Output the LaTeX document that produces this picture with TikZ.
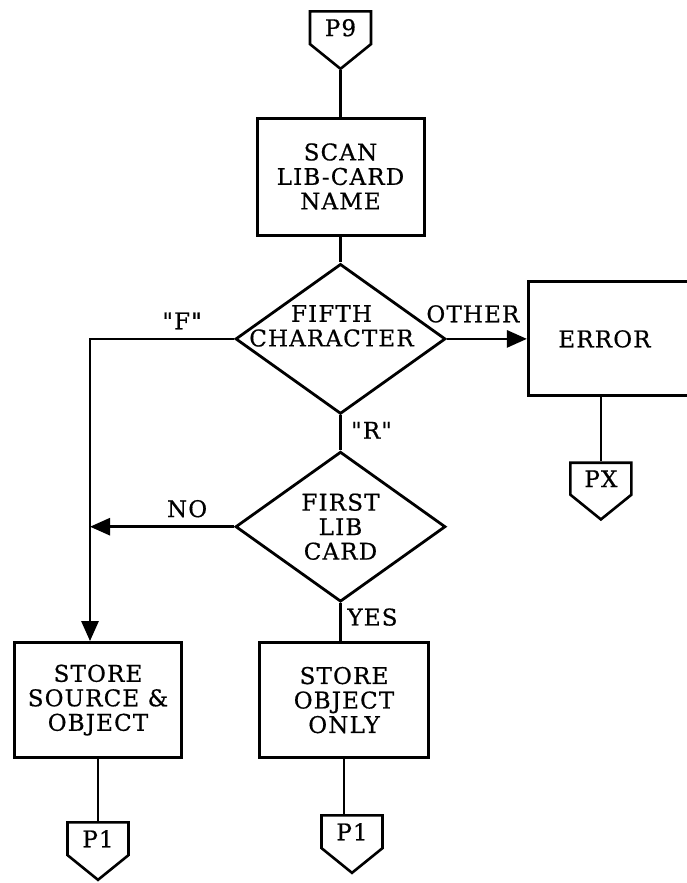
\documentclass[tikz,border=0pt]{standalone}
\usepackage{fontspec}
\setmainfont{DejaVu Serif}[LetterSpace=5, Ligatures=TeXOff, FakeBold=0.6]
\usetikzlibrary{arrows.meta,positioning,shapes.geometric,shapes.symbols,calc}

\newcommand{\flowfont}{\fontsize{23}{24.5}\selectfont}

\begin{document}
\begin{tikzpicture}[
    x=1pt, y=1pt,
    box/.style={rectangle, draw, line width=3pt, minimum width=167pt, minimum height=115pt, align=center, font=\flowfont},
    decision/.style={diamond, draw, line width=2.8pt, aspect=1.4, inner sep=-3pt, minimum width=210pt, minimum height=150pt, align=center, font=\flowfont},
    offpage/.style={signal, signal to=south, signal from=nowhere, signal pointer angle=102, draw, line width=2.6pt, minimum width=61pt, minimum height=47pt, inner sep=2pt, font=\flowfont},
    arrow/.style={-{Triangle[length=20pt,width=17pt]}, line width=2.8pt},
    link/.style={line width=2.8pt},
    tag/.style={font=\flowfont, inner sep=1pt},
]
\useasboundingbox (0,0) rectangle (687,-883);
\clip (0,0) rectangle (687,-883);

% --- main column ---
\node[box, minimum height=117pt] (scan) at (340.5,-176.5) {SCAN\\LIB-CARD\\NAME};
\node[offpage, above=46pt of scan] (p9) {P9};
\node[decision, below=26pt of scan] (fifth) {};
\node[tag, align=center] (fifthtxt) at ($(fifth)+(-9,13)$) {FIFTH\\CHARACTER};
\node[decision, below=35pt of fifth] (first) {FIRST\\LIB\\CARD};
\node[box, below=38pt of first, xshift=3.5pt, minimum width=169pt] (objonly) {STORE\\OBJECT\\ONLY};
\node[box, left=75pt of objonly] (srcobj) {STORE\\SOURCE \&\\OBJECT};
\node[offpage, below=62pt of srcobj] (p1a) {P1};
\node[offpage, below=55pt of objonly, xshift=8pt] (p1b) {P1};

% --- error branch ---
\node[box, right=80pt of fifth, minimum height=114pt, text width=140pt, inner xsep=30pt, align=left] (error) {ERROR};
\node[offpage, below=64pt of error, xshift=-27.5pt] (px) {PX};

\draw[link] (p9.south) -- (scan.north);
\draw[link] (scan) -- (fifth);
\draw[arrow] (fifth.east) -- (fifth.east -| error.west);
\draw[link] (fifth) -- (first);
\draw[link] (px.north |- error.south) -- (px.north);

% "F" and NO branches share the left drop line
\coordinate (fdrop) at ([xshift=-8pt]srcobj.north);
\draw[arrow] (fifth.west) -| (fdrop);
\draw[arrow] (first.west) -- (first.west -| fdrop);
\draw[link] (first.south) -- (first.south |- objonly.north);

\draw[link] (srcobj.south) -- (p1a.north);
\draw[link] (objonly.south) -- (objonly.south |- p1b.north);

% branch labels
\node[tag] (fq) at ($(fifth.west)+(-52,18)$) {"F"};
\node[tag] (other) at ($(fifth.east)+(26,25)$) {OTHER};
\node[tag] (rq) at ($(fifth.south)+(31,-15)$) {"R"};
\node[tag] (no) at ($(first.west)+(-47,18)$) {NO};
\node[tag] (yes) at ($(first.south)+(32,-14)$) {YES};

\end{tikzpicture}
\end{document}
